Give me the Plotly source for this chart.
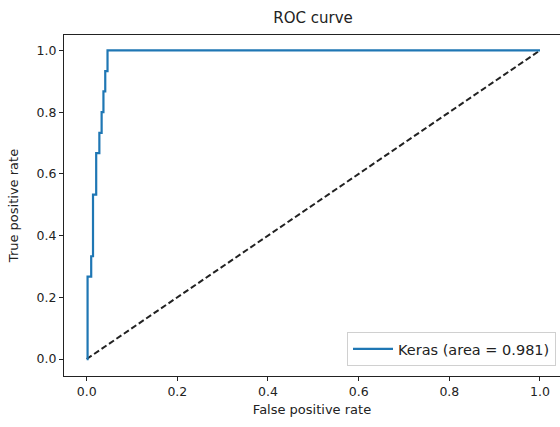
import plotly.graph_objects as go

# ROC curve data
fpr = [0.0, 0.0, 0.002, 0.002, 0.010, 0.010, 0.014, 0.014, 0.021, 0.021,
       0.028, 0.028, 0.033, 0.033, 0.037, 0.037, 0.041, 0.041, 0.046, 0.046, 1.0]
tpr = [0.0, 0.0, 0.0, 0.267, 0.267, 0.333, 0.333, 0.533, 0.533, 0.667,
       0.667, 0.733, 0.733, 0.800, 0.800, 0.867, 0.867, 0.933, 0.933, 1.0, 1.0]
diag_x = [0.0, 1.0]
diag_y = [0.0, 1.0]
label = "Keras (area = 0.981)"
tick_vals = [0.0, 0.2, 0.4, 0.6, 0.8, 1.0]
tick_text = ["0.0", "0.2", "0.4", "0.6", "0.8", "1.0"]

FONT = "DejaVu Sans"

fig = go.Figure()
fig.add_trace(go.Scatter(x=diag_x, y=diag_y, mode="lines",
                         line=dict(color="#222222", width=2, dash="6px,3px"),
                         showlegend=False, hoverinfo="skip"))
fig.add_trace(go.Scatter(x=fpr, y=tpr, mode="lines", name=label,
                         line=dict(color="#1f77b4", width=2.2)))

W, H = 560, 427
L, R, T, B = 64, 0, 35, 51

fig.update_layout(
    width=W, height=H,
    margin=dict(l=L, r=R, t=T, b=B),
    paper_bgcolor="white", plot_bgcolor="white",
    font=dict(family=FONT, size=12, color="#222222"),
    title=dict(text="ROC curve", x=313 / W, xref="container", xanchor="center",
               y=1 - 18 / H, yref="container", yanchor="middle",
               font=dict(family=FONT, size=15, color="#222222")),
    legend=dict(x=(556 - L) / (W - L - R), xanchor="right",
                y=(376 - 366) / (H - T - B), yanchor="bottom",
                bgcolor="white", bordercolor="#d0d0d0", borderwidth=1,
                font=dict(family=FONT, size=14.5, color="#222222"),
                itemwidth=40),
    showlegend=True,
)
fig.update_xaxes(range=[-0.05, 1.0 + (560 - 540) / 453], tickvals=tick_vals, ticktext=tick_text,
                 showgrid=False, zeroline=False, showline=True, linecolor="#222222",
                 linewidth=1, mirror=True, ticks="outside", ticklen=4, tickcolor="#222222",
                 title=dict(text="False positive rate", standoff=6,
                            font=dict(family=FONT, size=13)),
                 tickfont=dict(family=FONT, size=12.5))
fig.update_yaxes(range=[-0.055, 1.05], tickvals=tick_vals, ticktext=tick_text,
                 showgrid=False, zeroline=False, showline=True, linecolor="#222222",
                 linewidth=1, mirror=False, ticks="outside", ticklen=4, tickcolor="#222222",
                 title=dict(text="True positive rate", standoff=15,
                            font=dict(family=FONT, size=13)),
                 tickfont=dict(family=FONT, size=12.5))

fig.write_html("out.html")
